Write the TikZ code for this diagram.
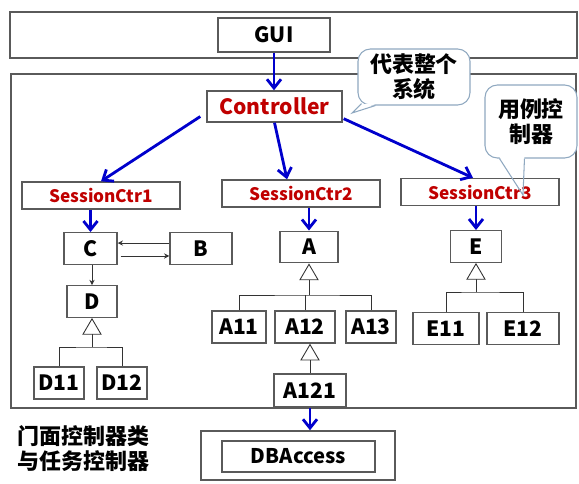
\documentclass[tikz,border=0pt]{standalone}
\usepackage{fontspec}
\setmainfont{Noto Sans CJK SC}
\usepackage{tikz}
\usetikzlibrary{arrows.meta,positioning,calc}
\definecolor{ctrlRed}{HTML}{C00000}
\definecolor{flowBlue}{HTML}{0000CC}
\definecolor{frameGray}{HTML}{5A5A5A}
\definecolor{noteEdge}{HTML}{8FA8C0}

\begin{document}
\begin{tikzpicture}[x=0.02cm,y=-0.02cm,
  box/.style={draw=frameGray,line width=0.8pt,fill=white,inner sep=0pt,font=\bfseries\fontsize{12}{14}\selectfont},
  sess/.style={box,minimum width=3.16cm,minimum height=0.54cm,text=ctrlRed,font=\bfseries\fontsize{9.8}{12}\selectfont},
  cls/.style={box,minimum height=0.63cm},
  flow/.style={flowBlue,line width=1.6pt,-{Straight Barb[length=5pt,width=8pt]}},
  thin/.style={draw=black!80,line width=0.5pt},
  thinarr/.style={thin,-{Stealth[length=3pt,width=3pt]}},
  gen/.style={thin,-{Triangle[length=9.5pt,width=11pt,fill=white]}},
  note/.style={draw=noteEdge,line width=0.6pt,fill=white,rounded corners=7pt,align=center,inner sep=0pt,font=\bfseries\fontsize{12.5}{14.5}\selectfont}]
\useasboundingbox (0,0) rectangle (579,484);
% frames
\draw[frameGray,line width=0.8pt] (10,12) rectangle (577,58);
\draw[frameGray,line width=0.8pt] (11,74) rectangle (576,408);
% gui and controller
\node[box,minimum width=2.24cm,minimum height=0.68cm] (gui) at (274,35) {GUI};
\node[box,minimum width=2.7cm,minimum height=0.62cm,text=ctrlRed] (ctrl) at (274.5,106.5) {Controller};
% session controllers
\node[sess] (s1) at (101,195.5) {SessionCtr1};
\node[sess] (s2) at (301,193.5) {SessionCtr2};
\node[sess] (s3) at (480,192) {SessionCtr3};
% left group : C, B, D
\node[cls,minimum width=1.06cm] (c) at (90.5,248.5) {C};
\node[cls,minimum width=1.24cm] (b) at (201,248.5) {B};
\node[cls,minimum width=1.0cm] (d) at (92,301.5) {D};
\node[cls,minimum width=1.0cm,minimum height=0.64cm] (d11) at (59,383) {D11};
\node[cls,minimum width=1.0cm,minimum height=0.64cm] (d12) at (122,383) {D12};
% middle group : A
\node[cls,minimum width=1.16cm] (a) at (309,247) {A};
\node[cls,minimum width=1.08cm,minimum height=0.64cm] (a11) at (239,327) {A11};
\node[cls,minimum width=1.2cm,minimum height=0.64cm] (a12) at (305,327) {A12};
\node[cls,minimum width=1.0cm,minimum height=0.64cm] (a13) at (371,327) {A13};
\node[cls,minimum width=1.44cm,minimum height=0.66cm] (a121) at (310,390.5) {A121};
% right group : E
\node[cls,minimum width=1.02cm] (e) at (476,246.5) {E};
\node[cls,minimum width=1.32cm] (e11) at (446,328.5) {E11};
\node[cls,minimum width=1.44cm] (e12) at (523,328.5) {E12};
% data access
\node[box,minimum width=3.88cm,minimum height=0.98cm] (dbo) at (298,455.5) {};
\node[box,minimum width=3.06cm,minimum height=0.62cm,font=\bfseries\fontsize{11.5}{13}\selectfont] (dbi) at (298.5,456.5) {DBAccess};
\node[anchor=north west,align=left,inner sep=0pt,font=\bfseries\fontsize{12.5}{14.2}\selectfont] (lbl) at (17,425) {门面控制器类\\与任务控制器};
% blue calls
\draw[flow] (gui.south) -- (gui.south |- ctrl.north);
\draw[flow] ([shift={(-6,10)}]ctrl.west) -- (s1.north);
\draw[flow] (ctrl.south) -- ([shift={(-14,0)}]s2.north);
\draw[flow] ([shift={(1,-4)}]ctrl.south east) -- ([shift={(-7,0)}]s3.north);
\draw[flow] (s1.south -| c.north) -- (c.north);
\draw[flow] (s2.south -| a.north) -- (a.north);
\draw[flow] (s3.south -| e.north) -- (e.north);
\draw[flow] (a121.south) -- (a121.south |- dbo.north);
% thin links
\draw[thinarr] ([yshift=3.1pt]b.west) -- ([yshift=3.1pt]c.east);
\draw[thinarr] ([yshift=-4.25pt,xshift=1.7pt]c.east) -- ([yshift=-4.25pt]b.west);
\draw[thinarr] (c.south -| d.north) -- (d.north);
% generalisation trees
\coordinate (dbar) at (92,347);
\draw[thin] (d11.north) |- (dbar) -| (d12.north);
\draw[gen] (dbar) -- (d.south);
\coordinate (abar) at (309,295);
\draw[thin] (a11.north) |- (abar) -| (a13.north);
\draw[thin] (a12.north) -- (a12.north |- abar);
\draw[gen] (abar) -- (a.south);
\draw[gen] (a121.north) -- (a121.north |- a12.south);
\coordinate (ebar) at (476,292);
\draw[thin] (e11.north) |- (ebar) -| (e12.north);
\draw[gen] (ebar) -- (e.south);
% callouts
\node[note,minimum width=2.24cm,minimum height=1.12cm] (n1) at (414,77) {代表整个\\系统};
\coordinate (n1tip) at (352,113);
\fill[white] ([shift={(4,-1.5)}]n1.south west) -- (n1tip) -- ([shift={(18,-1.5)}]n1.south west) -- cycle;
\draw[noteEdge,line width=0.6pt] ([shift={(4,-2)}]n1.south west) -- (n1tip) -- ([shift={(18,0)}]n1.south west);
\node[note,minimum width=1.84cm,minimum height=1.46cm] (n2) at (531,121.5) {用例控\\制器};
\coordinate (n2tip) at (523,195);
\coordinate (n2l) at ([shift={(15,0)}]n2.south west);
\coordinate (n2r) at ([shift={(40,0)}]n2.south west);
\fill[white] ([yshift=1pt]n2l) -- ($(n2l)!0.2!(n2tip)$) -- ($(n2r)!0.2!(n2tip)$) -- ([yshift=1pt]n2r) -- cycle;
\draw[noteEdge,line width=0.6pt] (n2l) -- (n2tip) -- (n2r);
\end{tikzpicture}
\end{document}
